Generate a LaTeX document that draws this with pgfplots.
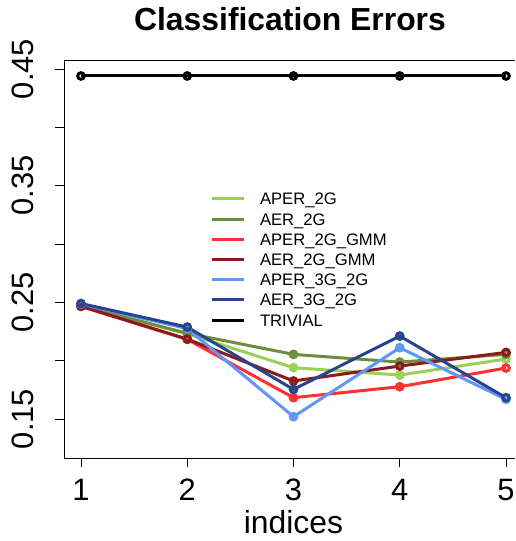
\documentclass[border=0pt]{standalone}
\usepackage{fontspec}
\setmainfont{Liberation Sans}
\usepackage{pgfplots}
\pgfplotsset{compat=1.18}
\definecolor{cAPERa}{RGB}{155,208,85}
\definecolor{cAERa}{RGB}{108,140,62}
\definecolor{cAPERb}{RGB}{255,48,48}
\definecolor{cAERb}{RGB}{139,26,26}
\definecolor{cAPERc}{RGB}{95,150,250}
\definecolor{cAERc}{RGB}{40,68,140}
\begin{document}
\begin{tikzpicture}
\path (-64bp,-83bp) rectangle (451bp,458bp);
\begin{axis}[
  at={(0,0)}, anchor=south west,
  scale only axis, width=451bp, height=398bp,
  xmin=0.84, xmax=5.0847, ymin=0.1166, ymax=0.4577,
  clip=false,
  axis lines*=left,
  xtick={1,2,3,4,5}, xticklabels={1,2,3,4,5},
  ytick={0.15,0.2,0.25,0.3,0.35,0.4,0.45},
  yticklabels={0.15,{},0.25,{},0.35,{},0.45},
  tick align=outside, major tick length=9bp,
  xtick pos=bottom, ytick pos=left,
  tick style={black, line width=0.75bp},
  axis line style={black, line width=0.75bp, -},
  ticklabel style={font=\fontsize{31}{36}\selectfont, inner sep=0pt},
  yticklabel style={rotate=90, anchor=south},
  xticklabel style={anchor=north},
  xticklabel shift=12bp, yticklabel shift=21bp,
  title={Classification Errors},
  title style={font=\bfseries\fontsize{32}{38}\selectfont, at={(226bp,398bp)}, anchor=base, yshift=24bp, inner sep=0pt},
  xlabel={indices},
  xlabel style={font=\fontsize{32}{38}\selectfont, at={(229.5bp,0bp)}, anchor=base, yshift=-75bp, inner sep=0pt},
  legend style={draw=none, fill=none, inner sep=0pt, outer sep=0pt,
    at={(146bp,265bp)}, anchor=north west,
    font=\fontsize{16.7}{20}\selectfont, row sep=8.17bp, column sep=15bp,
    nodes={inner sep=0pt, text height=12bp, text depth=0pt}},
  legend cell align=left,
  legend image code/.code={\draw[#1, line width=3bp] (0bp,0bp) -- (32bp,0bp);},
  every axis plot/.append style={line width=3bp, mark=o, mark size=3.3bp, mark options={solid}},
  extra description/.code={\draw[black, line width=0.75bp] (axis description cs:0,1) -- (axis description cs:1,1);},
]
\addplot[color=cAPERa] coordinates {(1,0.247) (2,0.223) (3,0.194) (4,0.1877) (5,0.2014)};
\addlegendentry{APER\_2G}
\addplot[color=cAERa] coordinates {(1,0.247) (2,0.2235) (3,0.2054) (4,0.1988) (5,0.2054)};
\addlegendentry{AER\_2G}
\addplot[color=cAPERb] coordinates {(1,0.2466) (2,0.2183) (3,0.1683) (4,0.1777) (5,0.1937)};
\addlegendentry{APER\_2G\_GMM}
\addplot[color=cAERb] coordinates {(1,0.2466) (2,0.2185) (3,0.1826) (4,0.1954) (5,0.2071)};
\addlegendentry{AER\_2G\_GMM}
\addplot[color=cAPERc] coordinates {(1,0.2485) (2,0.2275) (3,0.152) (4,0.2111) (5,0.1669)};
\addlegendentry{APER\_3G\_2G}
\addplot[color=cAERc] coordinates {(1,0.249) (2,0.2288) (3,0.1754) (4,0.2211) (5,0.1683)};
\addlegendentry{AER\_3G\_2G}
\addplot[color=black] coordinates {(1,0.444) (2,0.444) (3,0.444) (4,0.444) (5,0.444)};
\addlegendentry{TRIVIAL}
\end{axis}
\end{tikzpicture}
\end{document}
